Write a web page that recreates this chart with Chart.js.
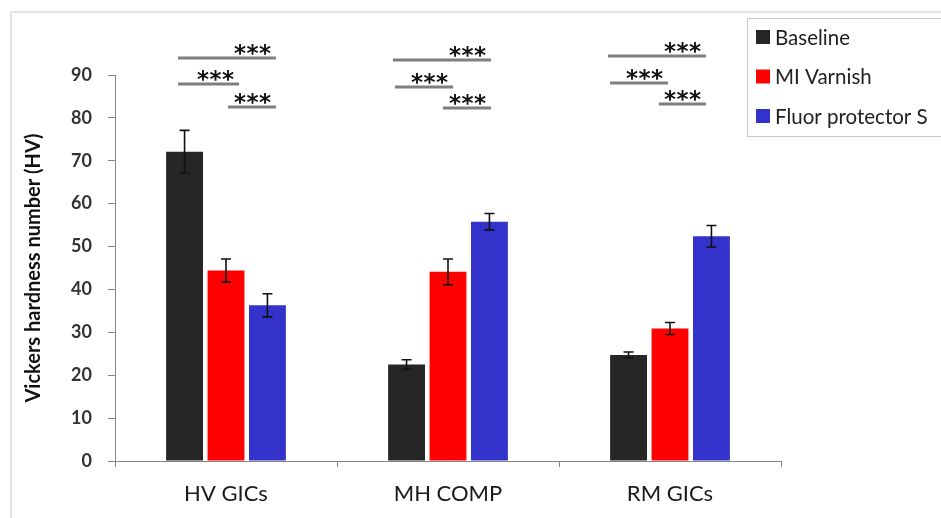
<!DOCTYPE html>
<html>
<head>
<meta charset="utf-8">
<script src="https://cdn.jsdelivr.net/npm/chart.js@4.4.1/dist/chart.umd.min.js"></script>
<style>
  body { margin: 0; background: #fff; }
  canvas { display: block; }
</style>
</head>
<body>
<canvas id="chart" width="941" height="518"></canvas>
<script>
const categories = ['HV GICs', 'MH COMP', 'RM GICs']
const seriesNames = ['Baseline', 'MI Varnish', 'Fluor protector S']

const baseline = [72.1, 22.5, 24.7]
const miVarnish = [44.4, 44.1, 30.9]
const fluorProtector = [36.3, 55.8, 52.4]

const baselineErr = [5.0, 1.1, 0.7]
const miVarnishErr = [2.7, 3.0, 1.4]
const fluorProtectorErr = [2.7, 1.9, 2.5]

// significance brackets: [category, start offset, end offset, level]
const sigBrackets = [
    [0, -0.216, 0.225, 94.0], [0, -0.216, 0.059, 87.9], [0, 0.009, 0.225, 82.6],
    [1, -0.248, 0.194, 93.6], [1, -0.239, 0.023, 87.3], [1, -0.023, 0.194, 82.3],
    [2, -0.279, 0.162, 94.4], [2, -0.270, -0.009, 88.2], [2, -0.050, 0.162, 83.2]
]
const sigLabel = '***'

function getColor(name) {
    if (name === 'Baseline') {
        return '#262626'
    }
    if (name === 'MI Varnish') {
        return '#ff0000'
    }
    if (name === 'Fluor protector S') {
        return '#3333cc'
    }
}

const values = [baseline, miVarnish, fluorProtector]
const errors = [baselineErr, miVarnishErr, fluorProtectorErr]

const frame = {
    id: 'frame',
    beforeDraw(chart) {
        const ctx = chart.ctx
        ctx.save()
        ctx.fillStyle = '#fff'
        ctx.fillRect(0, 0, chart.width, chart.height)
        ctx.strokeStyle = '#e4e4e4'
        ctx.lineWidth = 2
        ctx.strokeRect(11, 12, chart.width + 20, chart.height + 20)
        ctx.restore()
    }
}

const errorBars = {
    id: 'errorBars',
    afterDatasetsDraw(chart) {
        const ctx = chart.ctx
        const y = chart.scales.y
        ctx.save()
        ctx.strokeStyle = '#111'
        ctx.lineWidth = 1.6
        chart.data.datasets.forEach((ds, i) => {
            const meta = chart.getDatasetMeta(i)
            meta.data.forEach((bar, j) => {
                const v = ds.data[j]
                const e = errors[i][j]
                const top = y.getPixelForValue(v + e)
                const bottom = y.getPixelForValue(v - e)
                ctx.beginPath()
                ctx.moveTo(bar.x, top)
                ctx.lineTo(bar.x, bottom)
                ctx.moveTo(bar.x - 5, top)
                ctx.lineTo(bar.x + 5, top)
                ctx.moveTo(bar.x - 5, bottom)
                ctx.lineTo(bar.x + 5, bottom)
                ctx.stroke()
            })
        })
        ctx.restore()
    }
}

const significance = {
    id: 'significance',
    afterDraw(chart) {
        const ctx = chart.ctx
        const x = chart.scales.x
        const y = chart.scales.y
        ctx.save()
        sigBrackets.forEach(b => {
            const x0 = x.getPixelForValue(b[0] + b[1])
            const x1 = x.getPixelForValue(b[0] + b[2])
            const ly = Math.round(y.getPixelForValue(b[3]))
            ctx.strokeStyle = '#7f7f7f'
            ctx.lineWidth = 3
            ctx.beginPath()
            ctx.moveTo(x0, ly)
            ctx.lineTo(x1, ly)
            ctx.stroke()
            ctx.fillStyle = '#111'
            ctx.font = 'bold 23px "DejaVu Sans"'
            ctx.textAlign = 'center'
            ctx.textBaseline = 'alphabetic'
            for (let k = 0; k < sigLabel.length; k++) {
                ctx.fillText(sigLabel[k], x1 - 11 - (sigLabel.length - 1 - k) * 12.5, ly + 3)
            }
        })
        ctx.restore()
    }
}

const legendBox = {
    id: 'legendBox',
    afterDraw(chart) {
        const ctx = chart.ctx
        ctx.save()
        ctx.strokeStyle = '#c8c8c8'
        ctx.lineWidth = 1
        ctx.fillStyle = '#fff'
        ctx.fillRect(747.5, 18.5, 200, 118)
        ctx.strokeRect(747.5, 18.5, 200, 118)
        ctx.font = '20.5px Lato'
        ctx.textBaseline = 'middle'
        chart.data.datasets.forEach((ds, i) => {
            const cy = 37 + i * 39.5
            ctx.fillStyle = ds.backgroundColor
            ctx.fillRect(756, cy - 7, 14, 14)
            ctx.fillStyle = '#222'
            ctx.fillText(ds.label, 775, cy + 1)
        })
        ctx.restore()
    }
}

new Chart(document.querySelector('#chart').getContext('2d'), {
    type: 'bar',
    data: {
        labels: categories,
        datasets: seriesNames.map((name, i) => ({
            label: name,
            data: values[i],
            backgroundColor: getColor(name),
            borderWidth: 0,
            categoryPercentage: 0.56,
            barPercentage: 0.89
        }))
    },
    options: {
        responsive: false,
        animation: false,
        devicePixelRatio: 1,
        layout: { padding: { top: 75, right: 160, bottom: 0, left: 0 } },
        plugins: {
            legend: { display: false },
            tooltip: { enabled: false }
        },
        scales: {
            x: {
                afterFit: scale => { scale.height = 57 },
                grid: { display: true, drawOnChartArea: false, drawTicks: true, tickLength: 6, offset: true, color: '#868686' },
                border: { display: true, color: '#868686' },
                ticks: { color: '#1a1a1a', font: { family: 'Lato', size: 22 }, padding: 14 }
            },
            y: {
                min: 0,
                max: 90,
                afterFit: scale => { scale.width = 115 },
                grid: { display: true, drawOnChartArea: false, drawTicks: true, tickLength: 7, color: '#868686' },
                border: { display: true, color: '#868686' },
                ticks: { stepSize: 10, color: '#333', font: { family: 'Lato', size: 18, weight: 'bold' }, padding: 16 },
                title: {
                    display: true,
                    text: 'Vickers hardness number (HV)',
                    color: '#111',
                    font: { family: 'Lato', size: 20, weight: 'bold' },
                    padding: { top: 22, bottom: 0 }
                }
            }
        }
    },
    plugins: [frame, errorBars, significance, legendBox]
})
</script>
</body>
</html>
